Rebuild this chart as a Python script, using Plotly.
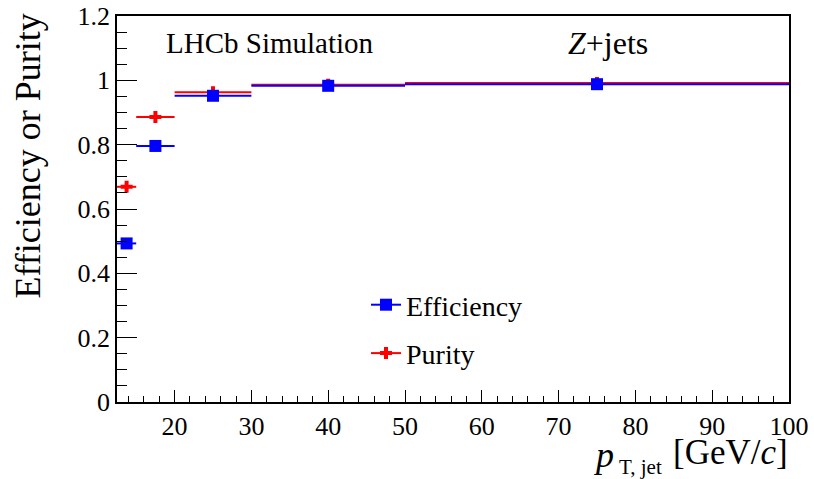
import plotly.graph_objects as go

# Jet pT bins [GeV/c]
bin_lo = [12.5, 15, 20, 30, 50]
bin_hi = [15, 20, 30, 50, 100]
efficiency = [0.493, 0.796, 0.952, 0.983, 0.988]
purity = [0.669, 0.886, 0.963, 0.986, 0.992]

x_mid = [(a + b) / 2 for a, b in zip(bin_lo, bin_hi)]
x_half = [(b - a) / 2 for a, b in zip(bin_lo, bin_hi)]

FONT = "Liberation Serif"
BLUE = "#0000ff"
RED = "#ff0000"

fig = go.Figure()

# purity first so the efficiency squares sit on top
fig.add_trace(go.Scatter(
    x=x_mid, y=purity, mode="markers", showlegend=False,
    marker=dict(symbol="cross", size=10, color=RED),
    error_x=dict(type="data", array=x_half, width=0, thickness=2, color=RED),
))
fig.add_trace(go.Scatter(
    x=x_mid, y=efficiency, mode="markers", showlegend=False,
    marker=dict(symbol="square", size=12, color=BLUE),
    error_x=dict(type="data", array=x_half, width=0, thickness=2, color=BLUE),
))

# legend entries: line segment with marker
fig.add_trace(go.Scatter(
    x=[None], y=[None], mode="lines+markers", name="Efficiency",
    legendgroup="eff",
    line=dict(color=BLUE, width=2),
    marker=dict(symbol="square", size=12, color=BLUE),
))
fig.add_trace(go.Scatter(
    x=[None], y=[None], mode="lines+markers", name="Purity",
    legendgroup="pur",
    line=dict(color=RED, width=2),
    marker=dict(symbol="cross", size=10, color=RED),
))

L, R, T, B = 117, 25, 16, 77
W, H = 814, 479
pw, ph = W - L - R, H - T - B


def px_x(p):
    return (p - L) / pw


def px_y(p):
    return (H - B - p) / ph


fig.update_layout(
    width=W, height=H,
    margin=dict(l=L, r=R, t=T, b=B, autoexpand=False),
    paper_bgcolor="white", plot_bgcolor="white",
    font=dict(family=FONT, size=26, color="black"),
    legend=dict(
        x=px_x(366), y=px_y(280), xanchor="left", yanchor="top",
        bgcolor="rgba(0,0,0,0)", font=dict(family=FONT, size=28),
        itemwidth=30, tracegroupgap=9,
    ),
    xaxis=dict(
        range=[12.5, 100], showgrid=False, zeroline=False, automargin=False,
        showline=True, linecolor="black", linewidth=1.5, mirror=True,
        ticks="inside", ticklen=12, tickwidth=1.2, tickcolor="black",
        tick0=0, dtick=10,
        minor=dict(ticks="inside", ticklen=6, dtick=2, tickcolor="black", tickwidth=1.2),
        tickfont=dict(family=FONT, size=26),
    ),
    yaxis=dict(
        range=[0, 1.2], showgrid=False, zeroline=False, automargin=False,
        showline=True, linecolor="black", linewidth=1.5, mirror=True,
        ticks="inside", ticklen=20, tickwidth=1.2, tickcolor="black",
        tick0=0, dtick=0.2,
        minor=dict(ticks="inside", ticklen=10, dtick=0.05, tickcolor="black", tickwidth=1.2),
        tickfont=dict(family=FONT, size=26),
        tickformat="~g",
    ),
)

annotations = [
    dict(text="LHCb Simulation", x=px_x(164), y=px_y(43), xanchor="left", yanchor="middle",
         font=dict(family=FONT, size=29)),
    dict(text="<i>Z</i>+jets", x=px_x(566), y=px_y(43), xanchor="left", yanchor="middle",
         font=dict(family=FONT, size=32)),
    dict(text="Efficiency or Purity", x=px_x(27), y=px_y(12), xanchor="center", yanchor="top",
         textangle=-90, font=dict(family=FONT, size=36)),
    dict(text="<i>p</i>", x=px_x(603), y=px_y(455), xanchor="center", yanchor="middle",
         font=dict(family=FONT, size=36)),
    dict(text="T, jet", x=px_x(640), y=px_y(467), xanchor="center", yanchor="middle",
         font=dict(family=FONT, size=21)),
    dict(text="[GeV/<i>c</i>]", x=px_x(790), y=px_y(452), xanchor="right", yanchor="middle",
         font=dict(family=FONT, size=35)),
]
for a in annotations:
    a.update(xref="paper", yref="paper", showarrow=False)
fig.update_layout(annotations=annotations)

fig.write_html("out.html")
